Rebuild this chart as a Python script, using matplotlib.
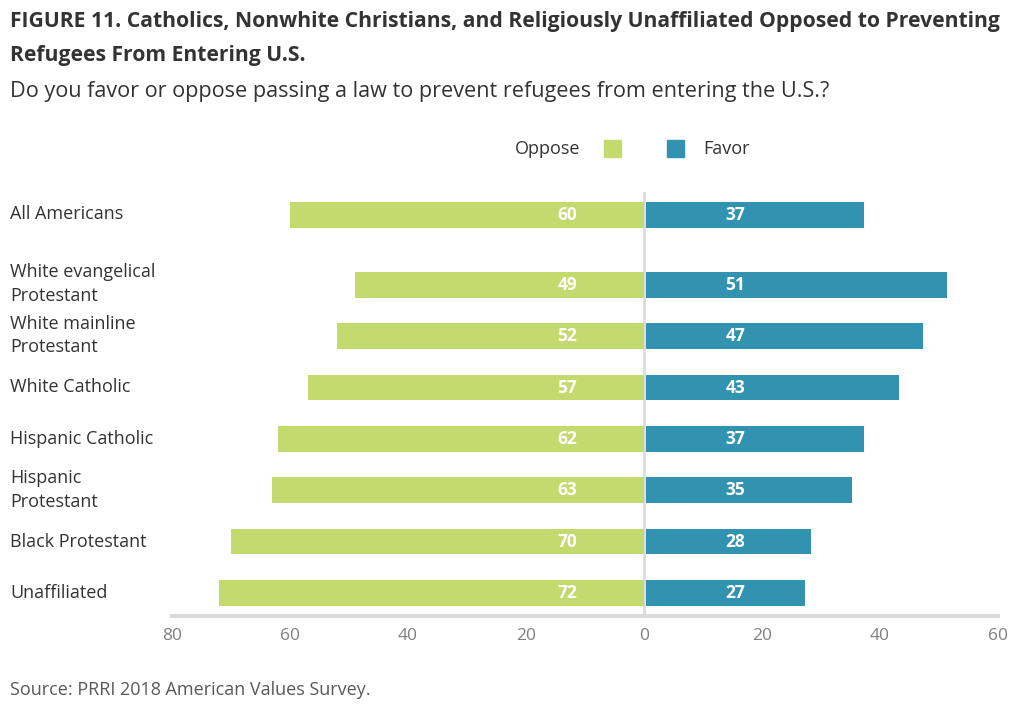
import numpy as np
import matplotlib.pyplot as plt

plt.rcParams['font.family'] = ['Open Sans', 'DejaVu Sans']

groups = ['All Americans', 'White evangelical\nProtestant', 'White mainline\nProtestant',
          'White Catholic', 'Hispanic Catholic', 'Hispanic\nProtestant',
          'Black Protestant', 'Unaffiliated']
oppose = [60, 49, 52, 57, 62, 63, 70, 72]
favor = [37, 51, 47, 43, 37, 35, 28, 27]
xticks = [-80, -60, -40, -20, 0, 20, 40, 60]

green = '#C3DA6E'
blue = '#3193B0'

# first row sits a bit apart from the rest
pos = np.array([0] + [1.36 + i for i in range(len(groups) - 1)])

fig = plt.figure(figsize=(10.24, 7.11), dpi=100)
W, H = 1024, 711
ax = fig.add_axes([172 / W, 1 - 616 / H, (998 - 172) / W, (616 - 192) / H])

ax.barh(pos, [-v for v in oppose], height=0.5, color=green, zorder=2)
ax.barh(pos, favor, left=0.3, height=0.5, color=blue, zorder=2)

for p, o, f in zip(pos, oppose, favor):
    ax.text(-13, p, str(o), color='white', fontsize=12.5, fontweight='bold',
            ha='center', va='center', zorder=3)
    ax.text(15.5, p, str(f), color='white', fontsize=12.5, fontweight='bold',
            ha='center', va='center', zorder=3)

ax.axvline(0, color='#dcdcdc', lw=2, zorder=1)
ax.set_xlim(-80, 60)
ax.set_ylim(pos[-1] + 0.45, -0.45)

for s in ['top', 'right', 'left']:
    ax.spines[s].set_visible(False)
ax.spines['bottom'].set_color('#dcdcdc')
ax.spines['bottom'].set_linewidth(3)
ax.set_yticks([])
ax.set_xticks(xticks)
ax.set_xticklabels([str(abs(t)) for t in xticks], color='#808080', fontsize=12.5)
ax.tick_params(axis='x', length=0, pad=9)

for p, g in zip(pos, groups):
    fig.text(10 / W, 1 - (214 + (p - pos[0]) * 51.5) / H, g, fontsize=13,
             color='#333333', ha='left', va='center', linespacing=1.4)

# legend
fig.text(580 / W, 1 - 149 / H, 'Oppose', fontsize=13, color='#333333', ha='right', va='center')
fig.patches.append(plt.Rectangle((604 / W, 1 - 157 / H), 17 / W, 17 / H,
                                 transform=fig.transFigure, color=green))
fig.patches.append(plt.Rectangle((667 / W, 1 - 157 / H), 17 / W, 17 / H,
                                 transform=fig.transFigure, color=blue))
fig.text(703 / W, 1 - 149 / H, 'Favor', fontsize=13, color='#333333', ha='left', va='center')

fig.text(10 / W, 1 - 21 / H,
         'FIGURE 11. Catholics, Nonwhite Christians, and Religiously Unaffiliated Opposed to Preventing',
         fontsize=15.2, fontweight='bold', color='#333333', ha='left', va='center')
fig.text(10 / W, 1 - 55 / H, 'Refugees From Entering U.S.',
         fontsize=15.2, fontweight='bold', color='#333333', ha='left', va='center')
fig.text(10 / W, 1 - 91 / H,
         'Do you favor or oppose passing a law to prevent refugees from entering the U.S.?',
         fontsize=15.6, color='#333333', ha='left', va='center')
fig.text(10 / W, 1 - 690 / H, 'Source: PRRI 2018 American Values Survey.',
         fontsize=13, color='#595959', ha='left', va='center')

fig.savefig('out.png', dpi=100)
